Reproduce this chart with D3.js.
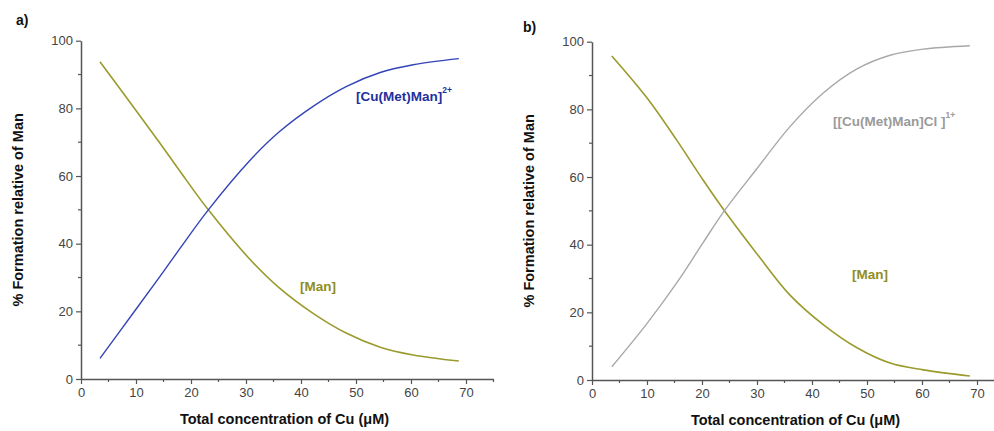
<!DOCTYPE html>
<html><head><meta charset="utf-8">
<script src="https://cdn.jsdelivr.net/npm/d3@7"></script>
<style>body{margin:0;background:#fff}svg{display:block;font-family:"Liberation Sans",Arial,sans-serif}</style>
</head><body><svg id="c" width="994" height="431"></svg>
<script>
// Data (x: total Cu concentration in µM, y: % formation)
const xA = [3.45, 9.5, 14.4, 18.0, 23.15, 30.7, 36.0, 42.2, 48.3, 54.4, 60.4, 68.7];
const manA = [93.8, 80.5, 69.6, 61.4, 50.0, 35.4, 27.0, 19.4, 13.5, 9.4, 7.1, 5.3];
const cplxA = [6.1, 19.5, 30.4, 38.6, 50.0, 64.6, 73.0, 80.6, 86.5, 90.6, 92.9, 94.7];
const xB = [3.6, 9.95, 15.4, 20.2, 24.05, 29.9, 36.0, 42.1, 48.1, 54.2, 60.2, 68.7];
const manB = [95.8, 83.5, 70.9, 59.1, 50.1, 37.5, 25.1, 16.3, 9.6, 5.0, 3.0, 1.2];
const cplxB = [3.9, 16.6, 28.7, 40.6, 50.0, 62.3, 74.9, 84.9, 91.9, 96.0, 97.8, 98.8];
const xTicks = [0, 10, 20, 30, 40, 50, 60, 70];
const yTicks = [0, 20, 40, 60, 80, 100];

const svg = d3.select("#c");
const olive = "#9b9a2c";

function panel(o) {
  const x = d3.scaleLinear().domain([0, 75]).range([o.x0, o.x0 + 5.5 * 75]);
  const y = d3.scaleLinear().domain([0, 100]).range([o.y0, o.y0 - 338.3]);
  const g = svg.append("g");
  const minorX = d3.range(5, 76, 10);
  const minorY = d3.range(10, 100, 20);
  g.selectAll(".mx").data(minorX).join("line")
    .attr("x1", d => x(d)).attr("x2", d => x(d)).attr("y1", o.y0).attr("y2", o.y0 + 3)
    .attr("stroke", "#555").attr("stroke-width", 1.2);
  g.selectAll(".my").data(minorY).join("line")
    .attr("y1", d => y(d)).attr("y2", d => y(d)).attr("x1", o.x0).attr("x2", o.x0 - 3)
    .attr("stroke", "#555").attr("stroke-width", 1.2);
  const xa = g.append("g").attr("transform", `translate(0,${o.y0})`)
    .call(d3.axisBottom(x).tickValues(xTicks).tickSize(5).tickPadding(4).tickSizeOuter(0));
  const ya = g.append("g").attr("transform", `translate(${o.x0},0)`)
    .call(d3.axisLeft(y).tickValues(yTicks).tickSize(5).tickPadding(3).tickSizeOuter(0));
  [xa, ya].forEach(a => {
    a.select(".domain").attr("stroke", "#555").attr("stroke-width", 1.5);
    a.selectAll(".tick line").attr("stroke", "#555").attr("stroke-width", 1.2);
    a.selectAll(".tick text").attr("fill", "#444").attr("font-size", 13).attr("font-family", "Liberation Sans, Arial, sans-serif");
  });
  const line = (xs, ys) => d3.line().x((d, i) => x(xs[i])).y(d => y(d)).curve(d3.curveCatmullRom.alpha(0.5))(ys);
  g.append("path").attr("d", line(o.xs, o.man)).attr("fill", "none").attr("stroke", olive).attr("stroke-width", 1.6);
  g.append("path").attr("d", line(o.xs, o.cplx)).attr("fill", "none").attr("stroke", o.cColor).attr("stroke-width", 1.4);
  g.append("text").attr("x", o.lx).attr("y", o.ly).text(o.letter)
    .attr("font-weight", "bold").attr("font-size", 14).attr("fill", "#111");
  g.append("text").attr("transform", `translate(${o.x0 - 58},${y(50)}) rotate(-90)`)
    .attr("text-anchor", "middle").attr("font-weight", "bold").attr("font-size", 14.5).attr("fill", "#111")
    .text("% Formation relative of Man");
  g.append("text").attr("x", x(37)).attr("y", o.y0 + 45).attr("text-anchor", "middle")
    .attr("font-weight", "bold").attr("font-size", 14.5).attr("fill", "#111")
    .text("Total concentration of Cu (\u03BCM)");
  const cl = g.append("text").attr("x", o.cLab[0]).attr("y", o.cLab[1])
    .attr("font-weight", "bold").attr("font-size", 13.5).attr("fill", o.cLabColor);
  cl.append("tspan").text(o.cText);
  cl.append("tspan").attr("dy", -8).attr("font-size", 8.5).text(o.cSup);
  g.append("text").attr("x", o.mLab[0]).attr("y", o.mLab[1])
    .attr("font-weight", "bold").attr("font-size", 13.5).attr("fill", "#8f8e1f").text("[Man]");
}

panel({x0: 81, y0: 379, xs: xA, man: manA, cplx: cplxA, cColor: "#3344b8", cLabColor: "#1f2f9e",
  letter: "a)", lx: 16, ly: 25, cText: "[Cu(Met)Man]", cSup: "2+", cLab: [356, 101], mLab: [300, 291]});
panel({x0: 592, y0: 380, xs: xB, man: manB, cplx: cplxB, cColor: "#a8a8a8", cLabColor: "#9a9a9a",
  letter: "b)", lx: 523, ly: 32, cText: "[[Cu(Met)Man]Cl ]", cSup: "1+", cLab: [833, 126], mLab: [852, 279]});
</script></body></html>
